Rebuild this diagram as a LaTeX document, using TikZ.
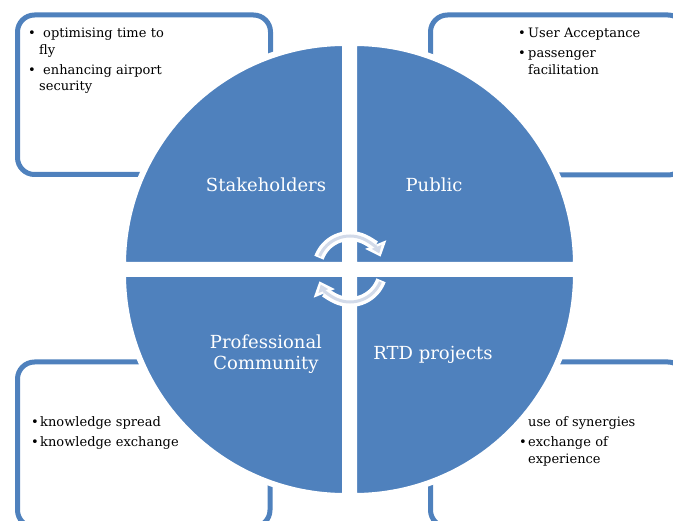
\documentclass[tikz,border=0pt]{standalone}
\usepackage{fontspec}
\setmainfont{DejaVu Serif}
\usetikzlibrary{arrows.meta}
\definecolor{quadblue}{RGB}{79,129,189}
\definecolor{cyclegray}{RGB}{210,218,233}
\tikzstyle{box}=[draw=quadblue, line width=5pt, rounded corners=17pt]
\tikzstyle{quad}=[fill=quadblue, draw=white, line width=6pt]
\tikzstyle{quad label}=[text=white, font=\fontsize{18}{21}\selectfont, align=center, inner sep=0pt]
\tikzstyle{list}=[anchor=north west, inner sep=0pt, text width=160pt, align=left,
    font=\fontsize{13}{16.5}\selectfont\setlength{\parskip}{3.5pt}]
\tikzstyle{cycle outer}=[white, line width=10pt, -{Triangle[width=22pt,length=13pt]}]
\tikzstyle{cycle inner}=[cyclegray, line width=3pt, -{Triangle[width=10pt,length=7pt]}, shorten >=3.5pt]
\newcommand{\bitem}[2][10pt]{\par\hangindent=#1\hangafter=1\noindent\makebox[#1][l]{\textbullet}#2\par}

\begin{document}
\begin{tikzpicture}[x=1pt, y=-1pt]
\useasboundingbox (0,0) rectangle (673,521);
% Boxes
    \draw[box] (17.5,15) rectangle (270.5,174.5);
    \draw[box] (430.5,15) rectangle (685,175);
    \draw[box] (17.5,362) rectangle (270,527);
    \draw[box] (430.5,362) rectangle (685,527);
% Lists
    \node[list] (stakeholders list) at (28,17.5)
        {\bitem[11pt]{\hspace{4pt}optimising time to\newline fly}\bitem[11pt]{\hspace{4pt}enhancing airport\newline security}};
    \node[list] (public list) at (518,17.5)
        {\bitem{User Acceptance}\bitem{passenger\newline facilitation}};
    \node[list] (professional list) at (31,406.5)
        {\bitem[9pt]{knowledge spread}\bitem[9pt]{knowledge exchange}};
    \node[list] (rtd list) at (519,406.5)
        {\par\noindent\hspace{9pt}use of synergies\bitem[9pt]{exchange of\newline experience}};
% Quadrants
    \draw[quad] (345,265) -- (123,265) arc[start angle=180, end angle=270, radius=222] -- cycle;
    \draw[quad] (354,265) -- (354,43) arc[start angle=270, end angle=360, radius=222] -- cycle;
    \draw[quad] (354,274) -- (576,274) arc[start angle=0, end angle=90, radius=222] -- cycle;
    \draw[quad] (345,274) -- (345,496) arc[start angle=90, end angle=180, radius=222] -- cycle;
% Labels
    \node[quad label, anchor=base] (stakeholders) at (266,192) {Stakeholders};
    \node[quad label, anchor=base] (public) at (434,192) {Public};
    \node[quad label, anchor=base] (professional) at (266,370) {Professional\\Community};
    \node[quad label, anchor=base] (rtd) at (433,360) {RTD projects};
% Cycle arrows
    \coordinate (hub) at (350,269);
    \draw[cycle outer] (hub) ++(200:33) arc[start angle=200, end angle=338, radius=33];
    \draw[cycle inner] (hub) ++(203:33) arc[start angle=203, end angle=338, radius=33];
    \draw[cycle outer] (hub) ++(20:33) arc[start angle=20, end angle=158, radius=33];
    \draw[cycle inner] (hub) ++(23:33) arc[start angle=23, end angle=158, radius=33];
\end{tikzpicture}
\end{document}
